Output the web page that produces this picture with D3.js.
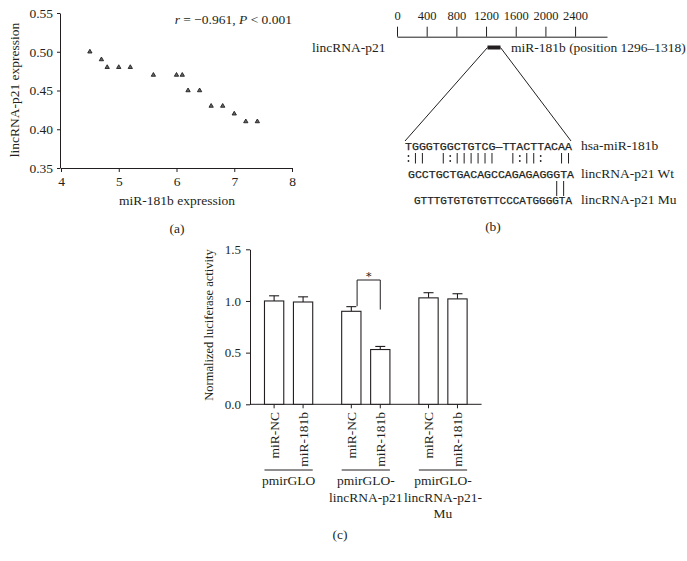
<!DOCTYPE html>
<html><head><meta charset="utf-8">
<script src="https://cdn.jsdelivr.net/npm/d3@7"></script>
<style>
body{margin:0;background:#fff;}
svg{display:block;}
text{font-family:"Liberation Serif","Times New Roman",serif;fill:#231f20;}
.mono{font-family:"Liberation Mono","Courier New",monospace;}
</style></head>
<body>
<svg id="c" width="687" height="561"></svg>
<script>
// ---------- DATA ----------
// Panel (a) scatter
const mirExpr  = [4.5, 4.7, 4.8, 5.0, 5.2, 5.6, 6.0, 6.1, 6.2, 6.4, 6.6, 6.8, 7.0, 7.2, 7.4];
const lincExpr = [0.50,0.49,0.48,0.48,0.48,0.47,0.47,0.47,0.45,0.45,0.43,0.43,0.42,0.41,0.41];
const xTicksA = [4,5,6,7,8];
const yTicksA = [0.35,0.40,0.45,0.50,0.55];
// Panel (b) binding site
const posTicks = [0,400,800,1200,1600,2000,2400];
const siteStart = 1296, siteEnd = 1318;
const seqMiR = "TGGGTGGCTGTCG—TTACTTACAA";
const alignSymbols = ":||  |:||||||  |:||:  ||";
const seqWt = "GCCTGCTGACAGCCAGAGAGGGTA";
const seqMu = "GTTTGTGTGTGTTCCCATGGGGTA";
const mutLinks = [21, 22];
const seqLabels = ["hsa-miR-181b","lincRNA-p21 Wt","lincRNA-p21 Mu"];
// Panel (c) luciferase
const groups = ["pmirGLO","pmirGLO-lincRNA-p21","pmirGLO-lincRNA-p21-Mu"];
const groupLabelLines = [["pmirGLO"],["pmirGLO-","lincRNA-p21"],["pmirGLO-","lincRNA-p21-","Mu"]];
const conditions = ["miR-NC","miR-181b"];
const lucValues = [[1.00,0.99],[0.90,0.53],[1.03,1.02]];
const lucErrors = [[0.05,0.05],[0.045,0.03],[0.05,0.05]];
const yTicksC = [0.0,0.5,1.0,1.5];

// ---------- DRAW ----------
const svg = d3.select("#c");
const ink = "#231f20";

// ===== Panel (a) =====
const xA = d3.scaleLinear().domain([4,8]).range([61,292]);
const yA = d3.scaleLinear().domain([0.35,0.55]).range([168,13]);
const gA = svg.append("g");
const axA = gA.append("g").attr("transform","translate(0,168)")
  .call(d3.axisBottom(xA).tickValues(xTicksA).tickFormat(d3.format("d")).tickSize(4).tickSizeOuter(0).tickPadding(4));
const ayA = gA.append("g").attr("transform","translate(60,0)")
  .call(d3.axisLeft(yA).tickValues(yTicksA).tickFormat(d3.format(".2f")).tickSize(3).tickSizeOuter(0).tickPadding(4));
[axA, ayA].forEach(a=>{
  a.selectAll("path,line").attr("stroke",ink).attr("stroke-width",1);
  a.selectAll("text").style("font-family","Liberation Serif").style("font-size","13.5px").attr("fill",ink);
});
gA.selectAll("path.pt").data(mirExpr).join("path").attr("class","pt")
  .attr("d", d3.symbol(d3.symbolTriangle, 8))
  .attr("transform",(d,i)=>`translate(${xA(d)},${yA(lincExpr[i])})`)
  .attr("fill","#666").attr("stroke",ink).attr("stroke-width",0.9);
gA.append("text").attr("x",292).attr("y",24).attr("text-anchor","end").style("font-size","13.5px")
  .html('<tspan font-style="italic">r</tspan> = −0.961, <tspan font-style="italic">P</tspan> &lt; 0.001');
gA.append("text").attr("x",177).attr("y",205).attr("text-anchor","middle").style("font-size","13.5px").text("miR-181b expression");
gA.append("text").attr("transform","translate(19,90) rotate(-90)").attr("text-anchor","middle").style("font-size","13.5px").text("lincRNA-p21 expression");
gA.append("text").attr("x",177).attr("y",233).attr("text-anchor","middle").style("font-size","13.5px").text("(a)");

// ===== Panel (b) =====
const xB = d3.scaleLinear().domain([0,2830]).range([397,607]);
const gB = svg.append("g");
const axB = gB.append("g").attr("transform","translate(0,36.7)")
  .call(d3.axisTop(xB).tickValues(posTicks).tickFormat(d3.format("d")).tickSize(10).tickSizeOuter(0).tickPadding(7));
axB.selectAll("path,line").attr("stroke",ink).attr("stroke-width",1);
axB.selectAll("text").style("font-family","Liberation Serif").style("font-size","12.5px").attr("fill",ink);
gB.append("text").attr("x",312).attr("y",52).style("font-size","13.5px").text("lincRNA-p21");
const siteMid = (siteStart+siteEnd)/2;
const siteL = xB(siteMid)-6.5, siteR = xB(siteMid)+6.5;
gB.append("rect").attr("x",siteL).attr("y",45.5).attr("width",siteR-siteL).attr("height",4).attr("fill",ink);
gB.append("text").attr("x",511).attr("y",52).style("font-size","13.5px").text("miR-181b (position 1296–1318)");

const seqX = d3.scaleLinear().domain([0,seqMiR.length]).range([405,572]);
gB.append("line").attr("x1",siteL).attr("y1",47.5).attr("x2",seqX(0)).attr("y2",141).attr("stroke",ink).attr("stroke-width",1);
gB.append("line").attr("x1",siteR).attr("y1",47.5).attr("x2",seqX(seqMiR.length)-1).attr("y2",141).attr("stroke",ink).attr("stroke-width",1);

const seqRows = [
  {s:seqMiR, x0:405, x1:572, y:150},
  {s:seqWt,  x0:408, x1:574, y:178},
  {s:seqMu,  x0:414, x1:572, y:204}
];
seqRows.forEach((r,i)=>{
  gB.append("text").attr("class","mono").attr("x",r.x0).attr("y",r.y)
    .attr("textLength",r.x1-r.x0).attr("lengthAdjust","spacingAndGlyphs")
    .style("font-size","11.5px").attr("fill","#222").attr("stroke","#222").attr("stroke-width",0.25).text(r.s);
  gB.append("text").attr("x",581).attr("y",r.y).style("font-size","13.5px").text(seqLabels[i]);
});
alignSymbols.split("").forEach((c,i)=>{
  const cx = seqX(i+0.5);
  if(c==="|"){
    gB.append("line").attr("x1",cx).attr("x2",cx).attr("y1",153).attr("y2",163.5).attr("stroke",ink).attr("stroke-width",1);
  } else if(c===":"){
    [156,161].forEach(cy=>gB.append("circle").attr("cx",cx).attr("cy",cy).attr("r",0.9).attr("fill",ink));
  }
});
const wtX = d3.scaleLinear().domain([0,seqWt.length]).range([408,574]);
mutLinks.forEach(i=>{
  gB.append("line").attr("x1",wtX(i+0.5)).attr("x2",wtX(i+0.5)).attr("y1",181).attr("y2",196).attr("stroke",ink).attr("stroke-width",1);
});
gB.append("text").attr("x",493).attr("y",231).attr("text-anchor","middle").style("font-size","13.5px").text("(b)");

// ===== Panel (c) =====
const xC = d3.scaleBand().domain(groups).range([250,481.6]).padding(0);
const xIn = d3.scaleBand().domain(conditions).range([0,xC.bandwidth()]).paddingInner(0.334).paddingOuter(0.5);
const yC = d3.scaleLinear().domain([0,1.5]).range([404.3,249.3]);
const gC = svg.append("g");
const ayC = gC.append("g").attr("transform","translate(250,0)")
  .call(d3.axisLeft(yC).tickValues(yTicksC).tickFormat(d3.format(".1f")).tickSize(4).tickSizeOuter(0).tickPadding(5));
ayC.selectAll("path,line").attr("stroke",ink).attr("stroke-width",1);
ayC.selectAll("text").style("font-family","Liberation Serif").style("font-size","13px").attr("fill",ink);
gC.append("line").attr("x1",250).attr("x2",481.6).attr("y1",yC(0)).attr("y2",yC(0)).attr("stroke",ink).attr("stroke-width",1);

const bars = [];
groups.forEach((g,gi)=>conditions.forEach((c,ci)=>bars.push({g,gi,c,ci,v:lucValues[gi][ci],e:lucErrors[gi][ci]})));
const bx = d=>xC(d.g)+xIn(d.c);
const bw = xIn.bandwidth();
gC.selectAll("line.err").data(bars).join("line").attr("class","err")
  .attr("x1",d=>bx(d)+bw/2).attr("x2",d=>bx(d)+bw/2).attr("y1",d=>yC(d.v)).attr("y2",d=>yC(d.v+d.e))
  .attr("stroke",ink).attr("stroke-width",1.1);
gC.selectAll("line.cap").data(bars).join("line").attr("class","cap")
  .attr("x1",d=>bx(d)+bw/2-5).attr("x2",d=>bx(d)+bw/2+5).attr("y1",d=>yC(d.v+d.e)).attr("y2",d=>yC(d.v+d.e))
  .attr("stroke",ink).attr("stroke-width",1.1);
gC.selectAll("rect.bar").data(bars).join("rect").attr("class","bar")
  .attr("x",d=>bx(d)).attr("width",bw).attr("y",d=>yC(d.v)).attr("height",d=>yC(0)-yC(d.v))
  .attr("fill","#fff").attr("stroke",ink).attr("stroke-width",1.1);
bars.forEach(d=>{
  const cx = bx(d)+bw/2;
  gC.append("line").attr("x1",cx).attr("x2",cx).attr("y1",yC(0)).attr("y2",yC(0)+4).attr("stroke",ink).attr("stroke-width",1);
  gC.append("text").attr("transform",`translate(${cx+4.5},412) rotate(-90)`).attr("text-anchor","end")
    .style("font-size","13.5px").text(d.c);
});
groups.forEach((g,gi)=>{
  const l = xC(g)+xIn(conditions[0]), r = xC(g)+xIn(conditions[1])+bw;
  gC.append("line").attr("x1",l).attr("x2",r).attr("y1",470).attr("y2",470).attr("stroke",ink).attr("stroke-width",1);
  groupLabelLines[gi].forEach((t,li)=>{
    gC.append("text").attr("x",(l+r)/2).attr("y",485+li*16.5).attr("text-anchor","middle").style("font-size","13.5px").text(t);
  });
});
const b3 = bars[2], b4 = bars[3];
const lx = bx(b3)+bw*0.8, rx = bx(b4)+bw/2, topY = 280;
gC.append("path").attr("d",`M${lx},${yC(b3.v+b3.e)-0.5}V${topY}H${rx}V${yC(b4.v)-40}`)
  .attr("fill","none").attr("stroke",ink).attr("stroke-width",1);
gC.append("text").attr("x",(lx+rx)/2).attr("y",280).attr("text-anchor","middle").style("font-family","DejaVu Serif").style("font-size","11px").style("fill","#231f20").text("*");
gC.append("text").attr("transform","translate(213,325) rotate(-90)").attr("text-anchor","middle").style("font-size","12.5px").text("Normalized luciferase activity");
gC.append("text").attr("x",340).attr("y",539).attr("text-anchor","middle").style("font-size","13.5px").text("(c)");
</script>
</body></html>
